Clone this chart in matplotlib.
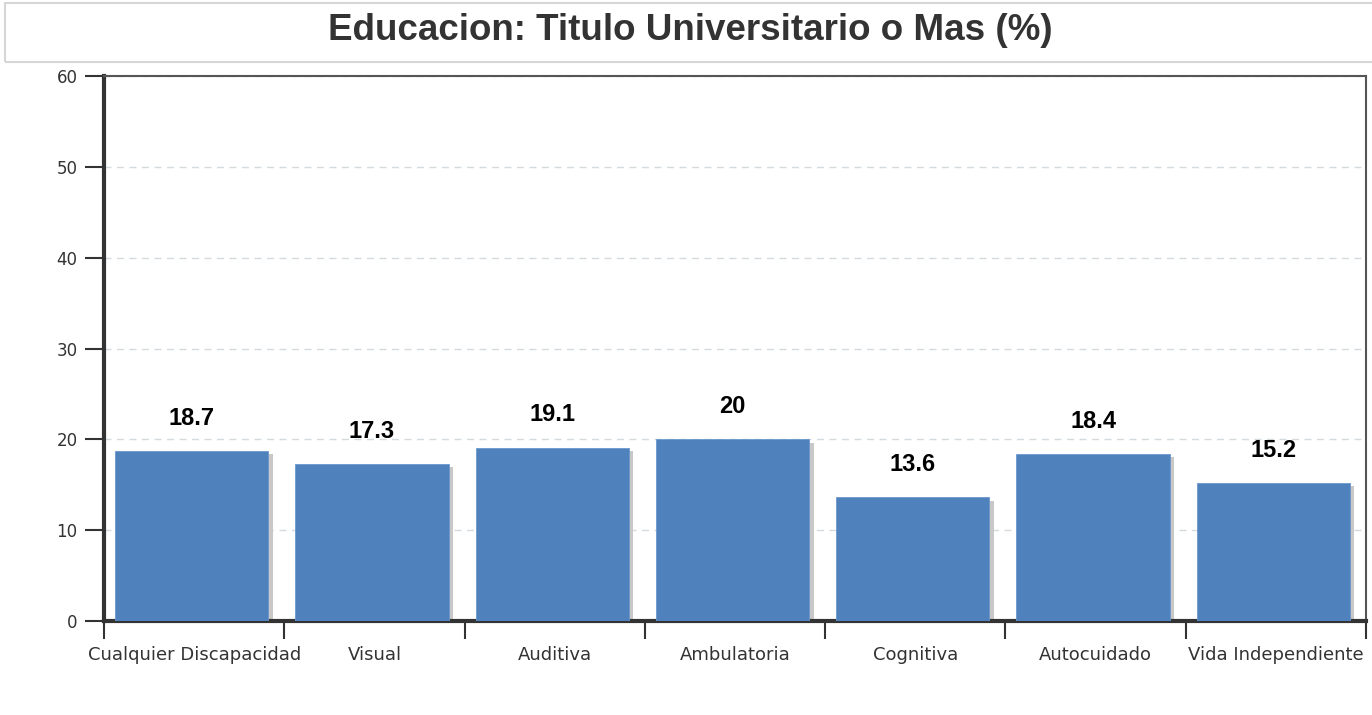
import matplotlib.pyplot as plt
from matplotlib.patches import Rectangle

# Data
categories = ['Cualquier Discapacidad', 'Visual', 'Auditiva', 'Ambulatoria',
              'Cognitiva', 'Autocuidado', 'Vida Independiente']
values = [18.7, 17.3, 19.1, 20, 13.6, 18.4, 15.2]
y_ticks = [0, 10, 20, 30, 40, 50, 60]

title = 'Educacion: Titulo Universitario o Mas (%)'
bar_color = '#4F81BD'
shadow_color = '#c8c8c8'
text_color = '#333333'

fig = plt.figure(figsize=(13.72, 7.15), dpi=100)
ax = fig.add_axes([104 / 1372, 94 / 715, 1262 / 1372, 545 / 715])

# Title box across the top
fig.patches.append(Rectangle((5 / 1372, 653 / 715), 1.0, 59 / 715,
                             transform=fig.transFigure, fill=False,
                             edgecolor='#d6d6d6', lw=1.5))
fig.text(690 / 1372, 684 / 715, title, ha='center', va='center',
         fontsize=26.5, fontweight='bold', color=text_color,
         family='Liberation Sans')

x = list(range(len(categories)))
left = [i - 0.5 + 0.061 for i in x]

# Shadow bars, then the blue bars on top
ax.bar([l + 0.025 for l in left], [v - 0.35 for v in values], width=0.85,
       align='edge', color=shadow_color, zorder=2)
ax.bar(left, values, width=0.85, align='edge', color=bar_color,
       edgecolor='#6a98cc', linewidth=0.6, zorder=3)

# Value labels above bars
for l, v in zip(left, values):
    ax.text(l + 0.425, v + 3.6, f'{v:g}', ha='center', va='center',
            fontsize=17, fontweight='bold', color='black',
            family='Liberation Sans', zorder=4)

ax.set_xlim(-0.5, len(categories) - 0.5)
ax.set_ylim(0, 60)
ax.set_yticks(y_ticks)
ax.set_xticks(x)
ax.set_xticklabels(categories, fontsize=13, color=text_color)
ax.set_xticks([i - 0.5 for i in range(len(categories) + 1)], minor=True)
ax.tick_params(axis='x', which='major', length=0, pad=18)
ax.tick_params(axis='x', which='minor', length=13, width=1.5, color=text_color)
ax.tick_params(axis='y', length=14, width=1.5, color=text_color,
               labelsize=12, labelcolor=text_color, pad=5)

ax.yaxis.grid(True, linestyle=(0, (5, 4)), color='#d3dbdf', lw=1)
ax.set_axisbelow(True)

ax.spines['left'].set_linewidth(3)
ax.spines['left'].set_color(text_color)
ax.spines['bottom'].set_linewidth(3)
ax.spines['bottom'].set_color(text_color)
ax.spines['top'].set_linewidth(1.5)
ax.spines['top'].set_color('#555555')
ax.spines['right'].set_linewidth(1.5)
ax.spines['right'].set_color('#555555')

fig.savefig('out.png', dpi=100, facecolor='white')
